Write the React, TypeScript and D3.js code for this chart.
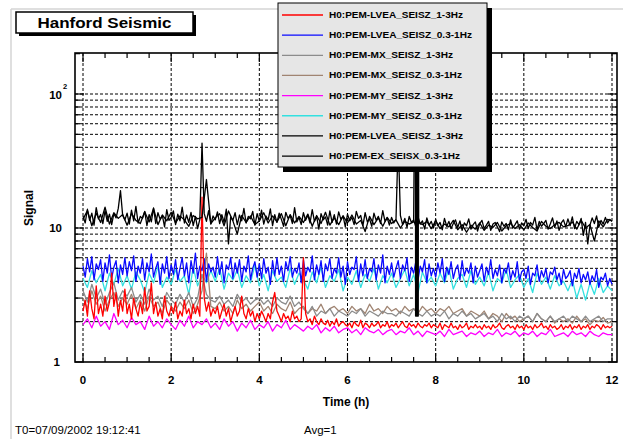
import React from "react";
import * as d3 from "d3";

// ---------- data ----------
// sample spacing (hours) per series: value i sits at t = i * step
const FINE_STEP = 0.05;
const COARSE_STEP = 0.1;

const LABELS = [
  "H0:PEM-LVEA_SEISZ_1-3Hz",
  "H0:PEM-LVEA_SEISZ_0.3-1Hz",
  "H0:PEM-MX_SEISZ_1-3Hz",
  "H0:PEM-MX_SEISZ_0.3-1Hz",
  "H0:PEM-MY_SEISZ_1-3Hz",
  "H0:PEM-MY_SEISZ_0.3-1Hz",
  "H0:PEM-LVEA_SEISZ_1-3Hz",
  "H0:PEM-EX_SEISX_0.3-1Hz",
];
const COLORS = ["#ff0000", "#0a0aff", "#8c8c8c", "#a08472", "#ff00ff", "#33e0e0", "#000000", "#000000"];

const RED = [
  2.4, 2.9, 2.2, 3.4, 2.5, 2.1, 3.7, 2.3, 2.7, 2.2,
  3.1, 2.4, 2.8, 4.6, 2.6, 3.3, 2.2, 2.9, 2.4, 3.5,
  2.3, 2.7, 2.1, 3.0, 2.5, 2.2, 2.8, 2.3, 3.6, 2.4,
  2.6, 3.9, 2.3, 2.8, 2.2, 2.5, 2.1, 3.1, 2.4, 2.2,
  2.6, 2.3, 2.8, 2.1, 2.4, 2.2, 2.9, 2.3, 2.5, 2.1,
  2.7, 2.3, 2.6, 2.2, 17.0, 3.0, 2.4, 2.8, 2.2, 2.5,
  2.3, 2.6, 2.1, 2.4, 2.7, 2.2, 2.5, 2.0, 2.3, 2.6,
  2.2, 2.4, 3.1, 2.3, 2.1, 2.5, 2.2, 2.4, 2.0, 2.3,
  2.1, 2.4, 2.2, 2.0, 2.3, 2.1, 2.8, 3.3, 2.4, 2.2,
  2.0, 2.3, 2.1, 2.2, 2.0, 2.4, 2.1, 2.2, 2.0, 2.1,
  6.0, 2.3, 2.0, 2.1, 1.9, 2.2, 2.0, 1.9, 2.1, 1.95,
  1.9, 2.05, 1.85, 2.0, 1.9, 2.1, 1.85, 1.95, 2.0, 1.9,
  1.85, 1.95, 1.8, 2.0, 1.9, 1.85, 2.05, 1.8, 1.95, 1.9,
  1.8, 1.95, 1.85, 1.9, 2.0, 1.8, 1.9, 1.85, 2.0, 1.8,
  1.9, 1.85, 1.95, 1.8, 1.9, 2.0, 1.85, 1.8, 1.95, 1.85,
  1.9, 1.8, 1.95, 1.85, 1.8, 1.9, 1.85, 1.95, 1.8, 1.9,
  1.85, 1.8, 1.95, 1.75, 1.9, 1.85, 1.8, 1.95, 1.8, 1.85,
  1.75, 1.9, 1.8, 1.85, 1.95, 1.75, 1.85, 1.8, 1.9, 1.8,
  1.85, 1.75, 1.9, 1.8, 1.85, 1.75, 1.9, 1.8, 1.85, 1.95,
  1.8, 1.75, 1.85, 1.9, 1.8, 1.85, 1.75, 1.9, 1.8, 1.85,
  1.75, 1.9, 1.8, 1.85, 1.75, 1.9, 1.8, 1.85, 1.95, 1.8,
  1.85, 1.75, 1.9, 1.8, 1.85, 1.75, 1.8, 1.9, 1.75, 1.85,
  1.8, 1.9, 1.75, 1.85, 1.8, 1.9, 1.75, 1.85, 1.8, 1.9,
  1.75, 1.85, 1.8, 1.9, 1.85, 1.75, 1.9, 1.8, 1.85, 1.8,
  1.85,
];
const BLUE = [
  5.2, 4.3, 5.9, 4.7, 6.1, 4.1, 5.4, 4.9, 5.8, 4.0,
  5.5, 4.6, 6.3, 4.2, 5.1, 5.7, 3.9, 5.3, 4.5, 6.0,
  4.4, 5.6, 4.8, 6.2, 4.0, 5.2, 4.6, 5.9, 4.1, 5.5,
  4.7, 6.4, 4.3, 5.0, 5.6, 3.8, 5.4, 4.6, 6.1, 4.2,
  5.3, 4.5, 5.8, 4.1, 5.0, 6.0, 4.4, 5.5, 3.9, 5.7,
  4.6, 6.5, 4.2, 5.2, 4.8, 5.9, 4.0, 5.4, 4.7, 5.1,
  4.3, 6.1, 4.5, 5.6, 3.9, 5.3, 4.9, 6.0, 4.2, 5.5,
  4.6, 5.8, 4.0, 5.2, 4.7, 6.2, 4.1, 5.0, 5.6, 4.3,
  5.4, 4.2, 5.9, 4.6, 5.1, 3.8, 5.7, 4.4, 6.0, 4.5,
  5.2, 4.0, 5.6, 4.8, 6.1, 4.3, 5.0, 4.6, 5.5, 3.9,
  5.8, 4.4, 5.1, 4.7, 6.2, 4.1, 5.3, 4.5, 5.7, 4.0,
  5.4, 4.8, 5.9, 4.2, 5.0, 4.6, 6.0, 4.3, 5.2, 3.8,
  5.6, 4.5, 5.1, 4.9, 6.1, 4.0, 5.4, 4.4, 5.8, 4.2,
  5.0, 4.7, 5.9, 4.1, 5.3, 4.6, 6.3, 3.9, 5.2, 4.5,
  5.5, 4.3, 5.0, 5.7, 4.2, 5.3, 4.8, 6.0, 4.0, 5.1,
  4.6, 5.6, 4.1, 5.2, 4.7, 5.8, 3.9, 5.4, 4.4, 5.0,
  4.3, 5.5, 4.6, 5.9, 4.0, 5.1, 4.5, 5.6, 4.2, 4.9,
  5.3, 4.1, 5.7, 4.4, 5.0, 4.6, 5.5, 3.9, 5.2, 4.3,
  4.8, 5.4, 4.0, 5.1, 4.5, 5.8, 4.2, 4.9, 4.4, 5.3,
  3.9, 5.0, 4.6, 5.5, 4.1, 4.8, 4.3, 5.6, 4.0, 4.7,
  4.9, 4.2, 5.2, 3.8, 4.6, 4.4, 5.3, 4.0, 4.8, 4.3,
  5.0, 3.9, 4.7, 4.5, 5.1, 4.1, 4.6, 3.8, 4.9, 4.2,
  4.4, 4.8, 3.7, 4.6, 4.2, 5.0, 3.9, 4.5, 4.1, 4.7,
  3.8, 4.4, 4.0, 4.9, 3.6, 4.3, 4.1, 4.6, 3.7, 4.2,
  3.8,
];
const GRAY = [
  3.4, 2.8, 3.8, 3.0, 3.5, 2.7, 3.3, 3.9, 2.9, 3.4,
  3.1, 3.6, 2.8, 3.2, 2.7, 3.5, 2.9, 3.1, 2.6, 3.3,
  2.9, 2.7, 3.2, 2.8, 3.3, 2.6, 3.0, 4.5, 3.2, 2.9,
  2.8, 3.1, 2.7, 2.9, 2.6, 3.2, 2.8, 3.0, 2.7, 2.9,
  3.0, 2.7, 2.9, 2.6, 3.0, 2.8, 2.7, 3.1, 2.6, 2.8,
  2.5, 2.3, 2.6, 2.2, 2.4, 2.3, 2.5, 2.2, 2.4, 2.3,
  2.2, 2.4, 2.3, 2.5, 2.2, 2.4, 2.3, 2.2, 2.4, 2.3,
  2.3, 2.2, 2.4, 2.3, 2.2, 2.5, 2.3, 2.2, 2.4, 2.2,
  2.3, 2.2, 2.4, 2.1, 2.3, 2.2, 2.4, 2.2, 2.3, 2.1,
  2.2, 2.3, 2.1, 2.2, 2.0, 2.3, 2.1, 2.2, 2.0, 2.2,
  2.1, 2.2, 2.0, 2.3, 2.1, 2.0, 2.2, 2.0, 2.1, 2.2,
  2.0, 2.2, 2.1, 2.0, 2.2, 2.0, 2.1, 2.2, 2.0, 2.1,
  2.1,
];
const BROWN = [
  3.0, 2.5, 3.4, 2.7, 3.1, 2.4, 2.9, 3.3, 2.6, 3.0,
  2.7, 3.2, 2.5, 2.9, 2.4, 3.1, 2.6, 2.8, 2.3, 2.9,
  2.6, 2.4, 2.8, 2.5, 2.9, 2.3, 2.7, 3.4, 6.5, 2.6,
  2.5, 2.8, 2.4, 2.6, 2.3, 2.9, 2.5, 2.7, 2.4, 2.6,
  2.8, 2.4, 2.6, 2.3, 2.7, 2.5, 2.4, 2.8, 2.3, 2.5,
  2.6, 2.3, 2.5, 2.4, 2.7, 2.3, 2.5, 2.6, 2.4, 2.5,
  2.3, 2.6, 2.4, 2.5, 2.3, 2.7, 2.4, 2.5, 2.3, 2.6,
  2.4, 2.5, 2.3, 2.6, 2.4, 2.5, 2.3, 2.6, 2.4, 2.5,
  2.3, 2.5, 2.4, 2.6, 2.3, 2.4, 2.5, 2.2, 2.4, 2.3,
  2.2, 2.4, 2.1, 2.3, 2.2, 2.0, 2.3, 2.1, 2.2, 2.0,
  2.1, 2.2, 2.0, 2.3, 2.1, 2.0, 2.2, 1.95, 2.1, 2.0,
  2.1, 1.95, 2.2, 2.0, 2.1, 1.9, 2.05, 2.0, 2.15, 1.95,
  2.0,
];
const MAGENTA = [
  1.9, 2.1, 1.8, 2.2, 1.85, 2.0, 1.75, 2.3, 1.9, 2.05,
  1.8, 2.15, 1.9, 2.0, 1.75, 2.2, 1.85, 2.0, 1.8, 2.1,
  1.9, 1.75, 2.05, 1.85, 2.2, 1.8, 2.0, 1.9, 2.1, 1.8,
  1.95, 1.75, 2.1, 1.85, 2.0, 1.7, 1.95, 1.8, 2.05, 1.75,
  1.9, 1.8, 2.0, 1.7, 1.9, 1.8, 2.05, 1.75, 1.9, 1.8,
  1.7, 1.85, 1.75, 1.9, 1.65, 1.8, 1.7, 1.85, 1.65, 1.75,
  1.8, 1.65, 1.75, 1.6, 1.8, 1.7, 1.65, 1.75, 1.6, 1.7,
  1.75, 1.6, 1.7, 1.65, 1.8, 1.6, 1.7, 1.55, 1.7, 1.65,
  1.6, 1.7, 1.55, 1.75, 1.6, 1.65, 1.7, 1.55, 1.65, 1.6,
  1.7, 1.55, 1.65, 1.6, 1.75, 1.55, 1.65, 1.6, 1.7, 1.55,
  1.65, 1.6, 1.7, 1.55, 1.65, 1.6, 1.75, 1.55, 1.6, 1.65,
  1.55, 1.7, 1.6, 1.65, 1.55, 1.7, 1.6, 1.55, 1.65, 1.6,
  1.6,
];
const CYAN = [
  4.2, 3.6, 4.8, 3.9, 4.5, 3.4, 4.6, 3.8, 5.0, 3.7,
  4.4, 3.5, 4.7, 4.1, 3.3, 4.6, 3.9, 5.2, 3.6, 4.3,
  3.8, 4.9, 4.0, 4.4, 3.2, 5.1, 3.7, 4.5, 3.9, 4.8,
  4.0, 5.0, 3.5, 4.6, 4.1, 4.9, 3.6, 4.4, 3.9, 5.3,
  3.7, 4.5, 3.4, 4.8, 4.0, 4.3, 3.6, 5.0, 3.8, 4.6,
  4.1, 3.5, 4.7, 3.9, 5.1, 3.6, 4.4, 4.0, 4.9, 3.4,
  4.3, 3.8, 4.8, 3.6, 4.5, 4.0, 5.0, 3.5, 4.4, 3.9,
  4.6, 3.6, 4.2, 4.9, 3.7, 4.5, 3.3, 4.7, 3.9, 4.3,
  3.7, 4.6, 3.9, 5.0, 3.5, 4.2, 4.5, 3.6, 4.8, 3.8,
  4.3, 3.7, 4.7, 3.4, 4.2, 3.9, 4.9, 3.6, 4.1, 4.5,
  3.6, 4.2, 3.3, 4.6, 3.8, 4.3, 3.5, 4.4, 3.7, 4.0,
  3.4, 4.1, 3.0, 3.8, 2.9, 3.9, 3.2, 4.2, 3.3, 3.7,
  3.4,
];
const BLACK_A = [
  12.3, 10.9, 13.8, 11.4, 12.9, 10.5, 14.2, 11.7, 12.6, 10.8,
  13.5, 11.2, 12.7, 10.6, 12.8, 11.9, 14.0, 19.0, 12.4, 11.5,
  12.9, 10.7, 13.6, 11.3, 14.5, 10.9, 12.2, 11.8, 13.3, 10.4,
  12.6, 11.1, 14.1, 10.8, 13.0, 11.6, 12.4, 10.2, 13.7, 11.4,
  12.0, 13.4, 10.6, 12.7, 11.3, 14.3, 10.9, 12.5, 11.0, 13.1,
  10.4, 12.2, 9.9, 11.6, 43.0, 12.8, 11.2, 13.5, 10.7, 12.3,
  11.5, 13.2, 10.8, 12.6, 11.0, 13.8, 7.6, 12.1, 11.4, 13.0,
  10.6, 12.5, 11.3, 14.0, 10.9, 12.2, 11.7, 13.3, 10.5, 12.8,
  11.2, 13.6, 10.7, 12.3, 11.5, 13.9, 10.4, 12.6, 11.0, 12.9,
  11.6, 10.3, 13.1, 11.8, 12.4, 10.8, 14.2, 11.1, 12.0, 10.6,
  13.0, 11.4, 12.5, 10.9, 13.7, 11.2, 12.2, 9.8, 12.8, 11.5,
  12.1, 10.5, 13.4, 11.0, 12.6, 10.7, 13.2, 11.6, 12.3, 10.2,
  12.7, 11.3, 12.0, 10.6, 13.3, 11.8, 12.4, 10.4, 13.0, 11.1,
  11.7, 10.3, 12.9, 11.4, 12.2, 10.8, 13.5, 11.2, 11.9, 10.5,
  12.0, 10.9, 11.6, 45.0, 12.4, 10.6, 11.8, 10.1, 12.2, 11.0,
  11.5, 10.2, 12.1, 10.7, 11.3, 9.8, 11.9, 10.5, 11.2, 10.0,
  11.6, 10.4, 11.0, 9.7, 11.8, 10.3, 11.2, 9.9, 10.8, 11.5,
  10.1, 11.3, 9.6, 10.9, 10.4, 11.7, 9.8, 10.6, 11.1, 9.5,
  10.8, 11.4, 9.9, 10.5, 11.2, 9.6, 10.7, 11.0, 10.2, 9.4,
  11.1, 10.3, 10.8, 9.7, 11.5, 10.0, 10.6, 11.3, 9.8, 10.9,
  10.4, 11.6, 9.9, 11.0, 10.5, 12.0, 9.7, 11.2, 10.3, 10.8,
  11.4, 9.8, 10.7, 11.9, 10.1, 11.3, 9.6, 10.9, 11.5, 10.2,
  11.7, 10.4, 12.1, 9.9, 11.2, 10.6, 11.8, 8.8, 11.0, 7.6,
  10.5, 11.9, 10.8, 12.3, 10.1, 11.4, 10.7, 12.0, 10.9, 11.6,
  11.2,
];
const BLACK_B = [
  11.6, 13.5, 10.4, 12.9, 11.0, 14.3, 10.7, 13.0, 11.8, 12.6,
  10.5, 12.8, 11.4, 10.8, 13.2, 11.1, 14.0, 10.6, 12.5, 11.3,
  13.1, 10.9, 12.3, 11.5, 10.3, 12.4, 11.7, 12.0, 23.0, 10.8,
  11.9, 12.8, 10.4, 13.4, 11.3, 9.0, 12.4, 11.0, 12.3, 10.6,
  11.3, 13.0, 10.9, 12.3, 11.1, 12.8, 10.4, 12.6, 10.9, 12.2,
  11.0, 12.7, 10.3, 12.4, 10.8, 13.1, 10.5, 11.9, 10.6, 12.3,
  10.9, 12.5, 10.7, 11.4, 9.4, 12.2, 10.6, 11.9, 10.3, 12.0,
  10.8, 11.5, 10.0, 11.2, 10.7, 11.1, 10.6, 10.6, 11.2, 9.9,
  11.3, 9.9, 10.7, 10.2, 11.4, 9.7, 10.6, 9.3, 10.5, 9.8,
  10.9, 9.6, 10.5, 10.1, 11.0, 9.5, 10.4, 10.8, 9.9, 10.6,
  9.7, 10.9, 10.1, 9.5, 11.2, 10.3, 9.9, 10.6, 11.0, 10.2,
  10.4, 11.1, 9.8, 11.4, 10.0, 10.6, 8.0, 11.3, 10.2, 11.6,
  11.3,
];
// burst on the EX channel near 7.58 h (a thick vertical stroke in the picture)
const BLACK_B_BURST: [number, number][] = [
  [7.54, 500], [7.545, 2.2], [7.55, 500], [7.555, 2.2], [7.56, 500], [7.565, 2.2],
  [7.57, 500], [7.575, 2.2], [7.58, 500], [7.585, 2.2], [7.59, 500], [7.595, 2.2],
  [7.6, 500], [7.605, 2.2], [7.61, 500], [7.615, 11.0],
];

const SERIES_VALUES = [RED, BLUE, GRAY, BROWN, MAGENTA, CYAN, BLACK_A, BLACK_B];
const SERIES_STEP = [FINE_STEP, FINE_STEP, COARSE_STEP, COARSE_STEP, COARSE_STEP, COARSE_STEP, FINE_STEP, COARSE_STEP];
const SERIES_EXTRA: [number, number][][] = [[], [], [], [], [], [], [], BLACK_B_BURST];
const DRAW_ORDER = [5, 4, 3, 2, 1, 0, 6, 7];

const X_MAJOR = [0, 2, 4, 6, 8, 10, 12];
const X_MINOR = [0, 0.5, 1, 1.5, 2, 2.5, 3, 3.5, 4, 4.5, 5, 5.5, 6, 6.5, 7, 7.5, 8, 8.5, 9, 9.5, 10, 10.5, 11, 11.5, 12];
const Y_TICKS = [1, 2, 3, 4, 5, 6, 7, 8, 9, 10, 20, 30, 40, 50, 60, 70, 80, 90, 100, 200];
const Y_MAJOR = [1, 10, 100];

// ---------- layout ----------
const W = 623, H = 439;
const FRAME = { left: 75, right: 617, top: 53, bottom: 362 };
const FONT = "'Liberation Sans', Arial, Helvetica, sans-serif";

export default function App() {
  const x = d3.scaleLinear().domain([0, 12]).range([83, 612]);
  const y = d3.scaleLog().domain([1, 100]).range([362, 94]);

  const line = d3
    .line<[number, number]>()
    .x((d) => x(d[0]))
    .y((d) => y(d[1]));

  const seriesPoints = SERIES_VALUES.map((vals, k) => {
    const step = SERIES_STEP[k];
    const pts: [number, number][] = vals.map((v, i) => [+(i * step).toFixed(3), v]);
    const all = pts.concat(SERIES_EXTRA[k]);
    all.sort((a, b) => a[0] - b[0]);
    return all;
  });

  const legend = { x: 278, y: 3, w: 209, h: 164 };
  const rowY = (i: number) => 15 + i * 20.15;
  const labelWidths = [134, 143, 124, 133, 124, 133, 134, 131];

  return (
    <svg
      width={W}
      height={H}
      style={{ position: "absolute", left: 0, top: 0, background: "#fff" }}
      xmlns="http://www.w3.org/2000/svg"
    >
      <rect x={0} y={0} width={W} height={H} fill="#fff" />
      {/* outer light frame */}
      <line x1={11} y1={9} x2={W} y2={9} stroke="#d4d4d4" strokeWidth={1.5} />
      <line x1={11} y1={9} x2={11} y2={H} stroke="#d4d4d4" strokeWidth={1.5} />

      <defs>
        <clipPath id="plotclip">
          <rect x={FRAME.left} y={FRAME.top} width={FRAME.right - FRAME.left} height={FRAME.bottom - FRAME.top} />
        </clipPath>
      </defs>

      {/* grid */}
      <g stroke="#000" strokeWidth={1} strokeDasharray="3,2">
        {X_MAJOR.map((t) => (
          <line key={"gx" + t} x1={x(t)} x2={x(t)} y1={FRAME.top} y2={FRAME.bottom} />
        ))}
        {Y_TICKS.filter((v) => v > 1 && y(v) > FRAME.top + 1).map((v) => (
          <line key={"gy" + v} x1={FRAME.left} x2={FRAME.right} y1={y(v)} y2={y(v)} />
        ))}
      </g>

      {/* data */}
      <g clipPath="url(#plotclip)" fill="none" strokeLinejoin="round">
        {DRAW_ORDER.map((k) => (
          <path key={"s" + k} d={line(seriesPoints[k]) || ""} stroke={COLORS[k]} strokeWidth={1.3} />
        ))}
      </g>

      {/* ticks */}
      <g stroke="#000" strokeWidth={1.2}>
        {X_MINOR.map((t) => {
          const len = X_MAJOR.includes(t) ? 9 : 5;
          return (
            <g key={"xt" + t}>
              <line x1={x(t)} x2={x(t)} y1={FRAME.bottom} y2={FRAME.bottom - len} />
              <line x1={x(t)} x2={x(t)} y1={FRAME.top} y2={FRAME.top + len} />
            </g>
          );
        })}
        {Y_TICKS.filter((v) => y(v) >= FRAME.top).map((v) => {
          const len = Y_MAJOR.includes(v) ? 9 : 5;
          return (
            <g key={"yt" + v}>
              <line x1={FRAME.left} x2={FRAME.left + len} y1={y(v)} y2={y(v)} />
              <line x1={FRAME.right} x2={FRAME.right - len} y1={y(v)} y2={y(v)} />
            </g>
          );
        })}
      </g>

      {/* frame */}
      <rect
        x={FRAME.left}
        y={FRAME.top}
        width={FRAME.right - FRAME.left}
        height={FRAME.bottom - FRAME.top}
        fill="none"
        stroke="#000"
        strokeWidth={1.6}
      />

      {/* tick labels */}
      <g fontFamily={FONT} fontSize={11.5} fontWeight="bold" fill="#000">
        {X_MAJOR.map((t) => (
          <text key={"xl" + t} x={x(t)} y={384} textAnchor="middle">
            {t}
          </text>
        ))}
        <text x={62} y={99} textAnchor="end">10</text>
        <text x={63} y={89} fontSize={7.5}>2</text>
        <text x={62} y={232} textAnchor="end">10</text>
        <text x={60} y={366} textAnchor="end">1</text>
      </g>

      {/* axis titles */}
      <text x={346} y={406} textAnchor="middle" fontFamily={FONT} fontSize={12} fontWeight="bold">
        Time (h)
      </text>
      <text
        transform="translate(33,208) rotate(-90)"
        textAnchor="middle"
        fontFamily={FONT}
        fontSize={12}
        fontWeight="bold"
      >
        Signal
      </text>
      <text x={15} y={434} fontFamily={FONT} fontSize={11.5}>
        T0=07/09/2002 19:12:41
      </text>
      <text x={304} y={434} fontFamily={FONT} fontSize={11.5}>
        Avg=1
      </text>

      {/* title box */}
      <rect x={19} y={15} width={177} height={21} fill="#000" />
      <rect x={16} y={12} width={177} height={21} fill="#fff" stroke="#000" strokeWidth={1.5} />
      <text x={104.5} y={28} textAnchor="middle" fontFamily={FONT} fontSize={14.5} fontWeight="bold" textLength={134} lengthAdjust="spacingAndGlyphs">
        Hanford Seismic
      </text>

      {/* legend */}
      <rect x={legend.x + 5} y={legend.y + 5} width={legend.w} height={legend.h} fill="#000" />
      <rect x={legend.x} y={legend.y} width={legend.w} height={legend.h} fill="#e6e6e6" stroke="#000" strokeWidth={1} />
      {LABELS.map((lab, i) => (
        <g key={"lg" + i}>
          <line x1={282} x2={323} y1={rowY(i)} y2={rowY(i)} stroke={COLORS[i]} strokeWidth={1.3} />
          <text
            x={329}
            y={rowY(i) + 3}
            fontFamily={FONT}
            fontSize={8.5}
            fontWeight="bold"
            textLength={labelWidths[i]}
            lengthAdjust="spacingAndGlyphs"
          >
            {lab}
          </text>
        </g>
      ))}
    </svg>
  );
}
